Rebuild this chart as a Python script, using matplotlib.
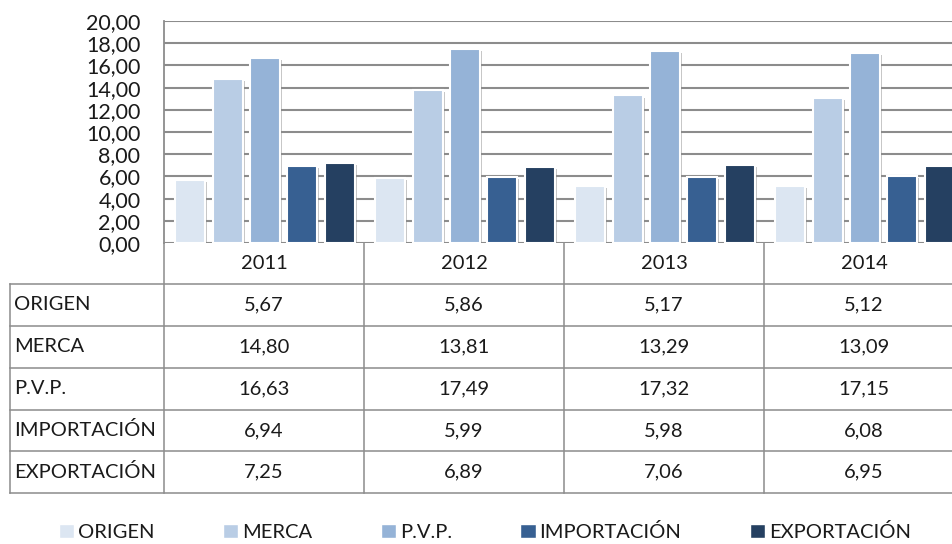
import matplotlib.pyplot as plt
import matplotlib.patheffects as pe
from matplotlib.patches import Patch

years = ['2011', '2012', '2013', '2014']
series = ['ORIGEN', 'MERCA', 'P.V.P.', 'IMPORTACIÓN', 'EXPORTACIÓN']
origen = [5.67, 5.86, 5.17, 5.12]
merca = [14.80, 13.81, 13.29, 13.09]
pvp = [16.63, 17.49, 17.32, 17.15]
importacion = [6.94, 5.99, 5.98, 6.08]
exportacion = [7.25, 6.89, 7.06, 6.95]
values = [origen, merca, pvp, importacion, exportacion]
colors = ['#DCE6F2', '#B9CDE5', '#95B3D7', '#376092', '#254061']

plt.rcParams['font.family'] = ['Lato', 'DejaVu Sans']

W, H = 953, 544
fig = plt.figure(figsize=(W / 100, H / 100), dpi=100)

# plot area in pixel units
left, top, bottom = 164, 21, 243
ax = fig.add_axes([left / W, (H - bottom) / H, (W - left) / W, (bottom - top) / H])
grid_c = '#8c8c8c'

x = range(len(years))
width = 0.15
step = 0.187
shadow = [pe.SimplePatchShadow(offset=(1.5, -1.5), shadow_rgbFace='#808080', alpha=0.45), pe.Normal()]
for i, (name, vals) in enumerate(zip(series, values)):
    pos = [k + (i - 2) * step + 0.005 for k in x]
    bars = ax.bar(pos, vals, width, color=colors[i], edgecolor='white', linewidth=1.5,
                  zorder=3, label=name)
    for b in bars:
        b.set_path_effects(shadow)

ax.set_xlim(-0.5, (W - left) / 200 - 0.5)
ax.set_ylim(0, 20)
ax.set_yticks(range(0, 21, 2))
ax.set_yticklabels([f'{v:.2f}'.replace('.', ',') for v in range(0, 21, 2)], fontsize=15.5)
ax.tick_params(axis='y', length=0, pad=17, labelcolor='#1a1a1a')
ax.set_xticks([])
ax.yaxis.grid(True, color=grid_c, linewidth=1.5, zorder=0)
for s in ['top', 'right', 'bottom']:
    ax.spines[s].set_visible(False)
ax.spines['left'].set_color(grid_c)
ax.spines['left'].set_linewidth(1.3)
ax.set_axisbelow(True)

# data table below the plot
ov = fig.add_axes([0, 0, 1, 1], zorder=-1)
ov.set_xlim(0, W)
ov.set_ylim(H, 0)
ov.axis('off')
row_y = [243, 284, 326, 368, 410, 451, 493]
tl = 10
lw = 1.1
ov.plot([left, left], [243, 493], color=grid_c, lw=lw)
ov.plot([tl, tl], [284, 493], color=grid_c, lw=lw)
for k in range(1, len(years)):
    xx = left + 200 * k
    ov.plot([xx, xx], [243, 493], color=grid_c, lw=lw)
for yy in row_y[1:]:
    ov.plot([tl, W], [yy, yy], color=grid_c, lw=lw)

fs = 14.5
for k, yr in enumerate(years):
    cx = left + 200 * k + 100
    ov.text(cx, (row_y[0] + row_y[1]) / 2, yr, ha='center', va='center', fontsize=fs, color='#1a1a1a')
for r, (name, vals) in enumerate(zip(series, values)):
    cy = (row_y[r + 1] + row_y[r + 2]) / 2
    ov.text(tl + 4, cy, name, ha='left', va='center', fontsize=fs, color='#1a1a1a')
    for k, v in enumerate(vals):
        cx = left + 200 * k + 100
        ov.text(cx, cy, f'{v:.2f}'.replace('.', ','), ha='center', va='center', fontsize=fs, color='#1a1a1a')

handles = [Patch(facecolor=c, edgecolor='white') for c in colors]
fig.legend(handles, series, loc='center', bbox_to_anchor=(485 / W, (H - 532) / H), ncol=5,
           frameon=False, fontsize=fs, handlelength=0.75, handleheight=0.75,
           handletextpad=0.2, columnspacing=3.4, labelcolor='#1a1a1a')

fig.savefig('out.png', dpi=100)
